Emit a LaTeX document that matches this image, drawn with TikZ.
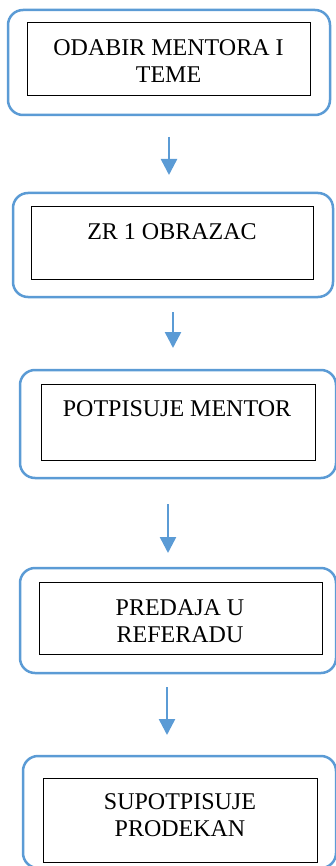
\documentclass[tikz,border=0pt]{standalone}
\usepackage{fontspec}
\setmainfont{Liberation Serif}
\definecolor{blue}{RGB}{91,155,213}
\usetikzlibrary{arrows.meta}
\tikzset{
    outer/.style = {draw=blue, line width=2.5pt, rounded corners=15pt},
    inner/.style = {draw=black, line width=1pt},
    txt/.style = {inner sep=0pt, align=center, font=\fontsize{24}{27}\selectfont},
    flow/.style = {draw=blue, line width=2.5pt, -{Triangle[width=16pt,length=16pt]}}
}

\begin{document}
\begin{tikzpicture}[x=1pt,y=-1pt]
\useasboundingbox (0,0) rectangle (336,866);

\node [outer, minimum width=322pt, minimum height=105pt] (o1) at (169,62.5) {};
\node [inner, minimum width=283pt, minimum height=73pt] (i1) at (168.5,59.5) {};
\node [txt] (t1) at (168.5,61.5) {ODABIR MENTORA I\\TEME};

\node [outer, minimum width=320pt, minimum height=104pt] (o2) at (173,245) {};
\node [inner, minimum width=282pt, minimum height=72pt] (i2) at (172,243) {};
\node [txt] (t2) at (172,232) {ZR 1 OBRAZAC};

\node [outer, minimum width=316pt, minimum height=108pt] (o3) at (178,424) {};
\node [inner, minimum width=274pt, minimum height=76pt] (i3) at (178,422) {};
\node [txt] (t3) at (177,409) {POTPISUJE MENTOR};

\node [outer, minimum width=316pt, minimum height=105pt] (o4) at (178,620.5) {};
\node [inner, minimum width=283pt, minimum height=72pt] (i4) at (180.5,618) {};
\node [txt] (t4) at (180,621.5) {PREDAJA U\\REFERADU};

\node [outer, minimum width=313pt, minimum height=112pt] (o5) at (179.5,812) {};
\node [inner, minimum width=274pt, minimum height=84pt] (i5) at (180,820) {};
\node [txt] (t5) at (180,815.5) {SUPOTPISUJE\\PRODEKAN};

\coordinate (a1) at (169,137);
\coordinate (b1) at (169,175);
\coordinate (a2) at (173,312);
\coordinate (b2) at (173,348);
\coordinate (a3) at (168,504);
\coordinate (b3) at (168,553);
\coordinate (a4) at (167,687);
\coordinate (b4) at (167,735);
\draw [flow] (a1) -- (b1);
\draw [flow] (a2) -- (b2);
\draw [flow] (a3) -- (b3);
\draw [flow] (a4) -- (b4);
\end{tikzpicture}
\end{document}
